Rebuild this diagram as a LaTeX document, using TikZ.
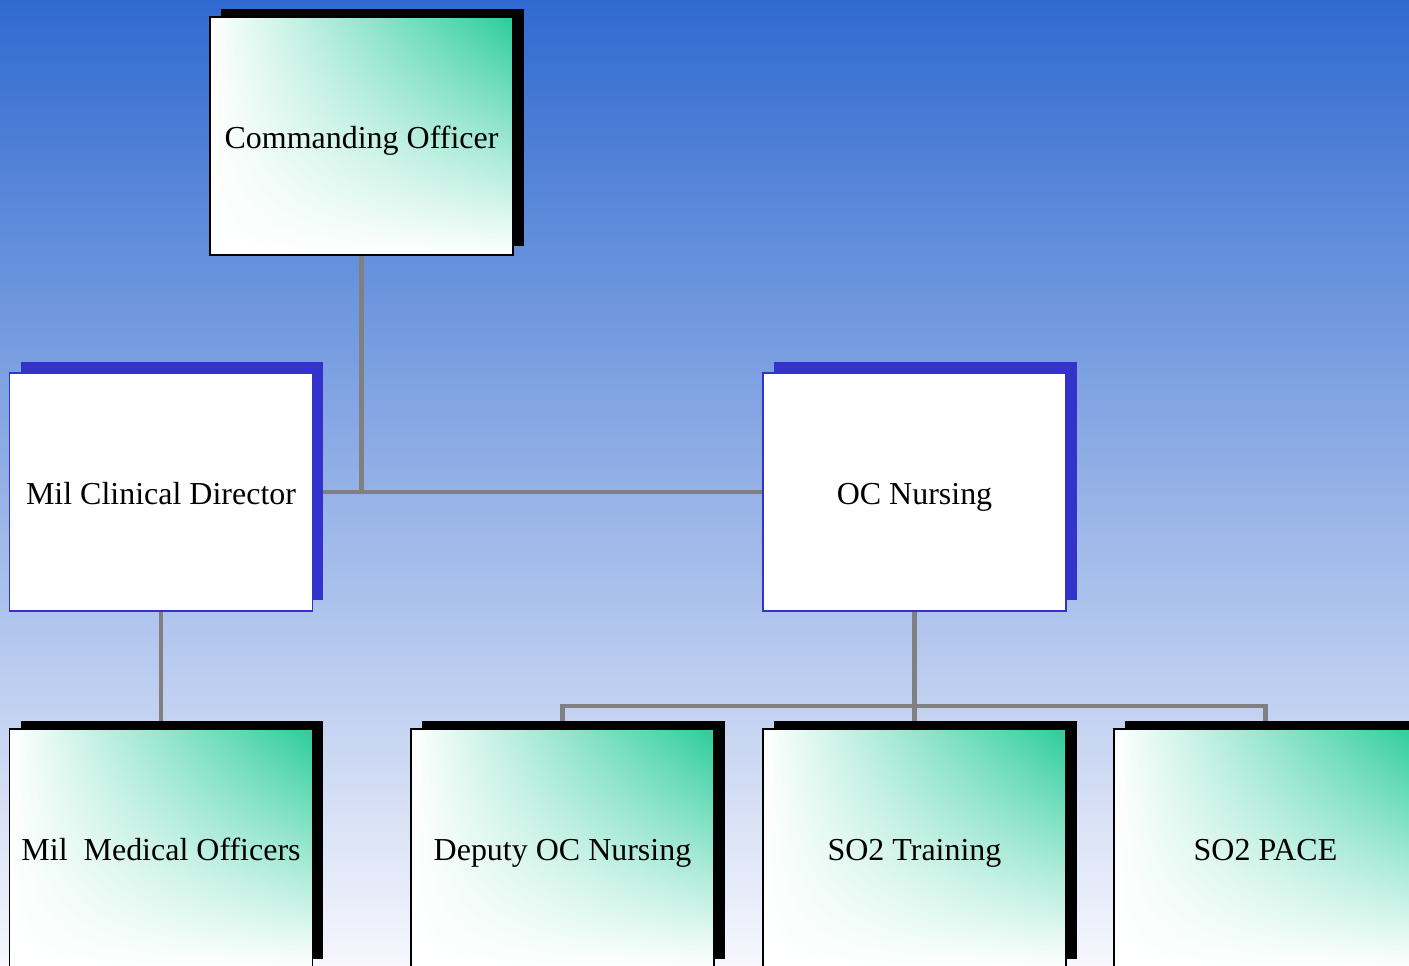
\documentclass[tikz,border=0pt]{standalone}
\usepackage{fontspec}
\setmainfont{Liberation Serif}
\usetikzlibrary{shadings,shadows}

\definecolor{boxgreen}{RGB}{44,204,154}
\definecolor{shadeblue}{RGB}{51,51,204}
\definecolor{linkgray}{RGB}{128,128,128}
\definecolor{skytop}{RGB}{48,106,208}
\definecolor{skymid}{RGB}{158,170,224}
\definecolor{skybottom}{RGB}{247,247,253}

\pgfdeclarelayer{backdrop}
\pgfdeclarelayer{links}
\pgfsetlayers{backdrop,links,main}

\begin{document}
\begin{tikzpicture}[x=0.02cm,y=-0.02cm,
    orgbox/.style={rectangle,minimum width=6.06cm,minimum height=4.76cm,inner sep=0pt,
        text height=14.5pt,text depth=0pt,font=\fontsize{18.2}{22}\selectfont},
    greenbox/.style={orgbox,draw=black,line width=1.1pt,
        upper right=boxgreen,upper left=white,lower left=white,lower right=white,
        general shadow={fill=black,shadow xshift=0.22cm,shadow yshift=0.17cm}},
    bluebox/.style={orgbox,draw=shadeblue,line width=0.9pt,fill=white,
        general shadow={fill=shadeblue,shadow xshift=0.22cm,shadow yshift=0.22cm}},
    link/.style={draw=linkgray,line width=2.8pt}]
    \clip (0,0) rectangle (1409,965);
    \begin{pgfonlayer}{backdrop}
        \shade[top color=skytop,middle color=skymid,bottom color=skybottom] (0,0) rectangle (1409,965);
    \end{pgfonlayer}
    % boxes
    \node[greenbox] (co) at (361.5,136) {Commanding Officer};
    \node[bluebox] (mcd) at (161,492) {Mil Clinical Director};
    \node[bluebox] (ocn) at (914.5,492) {OC Nursing};
    \node[greenbox] (mmo) at (161,848) {Mil\ \ Medical Officers};
    \node[greenbox] (doc) at (562.5,848) {Deputy OC Nursing};
    \node[greenbox] (sot) at (914.5,848) {SO2 Training};
    \node[greenbox] (sop) at (1265.5,848) {SO2 PACE};
    \coordinate (bus) at (914.5,706);
    % connectors
    \begin{pgfonlayer}{links}
        \draw[link] (co.south) -- (co.south |- mcd.east);
        \draw[link] (mcd.east) -- (ocn.west);
        \draw[link] (mcd.south) -- (mmo.north);
        \draw[link] (ocn.south) -- (sot.north);
        \draw[link] (doc.north) -- (doc.north |- bus) -- (sop.north |- bus) -- (sop.north);
    \end{pgfonlayer}
\end{tikzpicture}
\end{document}
